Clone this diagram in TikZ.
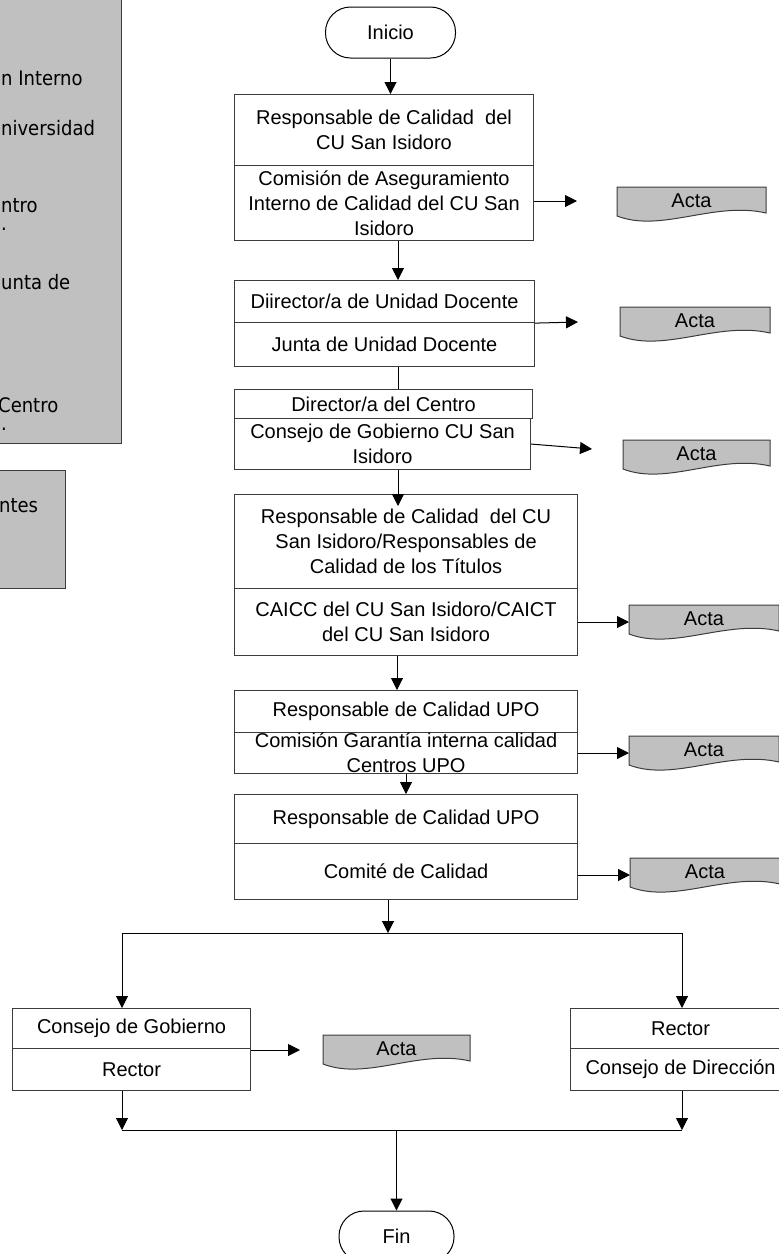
\documentclass[tikz,border=0pt]{standalone}
\usepackage{fontspec}
\setmainfont{Liberation Sans}
\newfontfamily\panelfont{DejaVu Sans Condensed}
\usetikzlibrary{arrows.meta,calc}

\definecolor{fillgray}{HTML}{C0C0C0}
\definecolor{edgegray}{HTML}{3C3C3C}

\tikzset{
  txt/.style={font=\fontsize{20}{25}\selectfont, align=center, inner sep=0pt},
  part/.style={draw=edgegray, line width=1.1pt, inner sep=0pt, anchor=north west},
  panel/.style={draw=edgegray, fill=fillgray, line width=1.1pt, inner sep=0pt, anchor=north west},
  ptext/.style={font=\panelfont\fontsize{20}{24}\selectfont, anchor=base west, inner sep=0pt},
  term/.style={draw=black, line width=1pt, rounded corners=25pt, minimum width=130pt,
               minimum height=51pt, inner sep=0pt, font=\fontsize{20}{25}\selectfont},
  actashape/.style={fill=fillgray, draw=edgegray, line width=1pt},
  ln/.style={draw=black, line width=1pt},
  arr/.style={draw=black, line width=1pt, -{Triangle[length=12pt,width=12pt]}},
}

\newcommand\bpart[7][]{%
  \node[part, minimum width=#5pt, minimum height=#6pt] (#2) at (#3,#4) {};
  \node[txt,#1] (#2t) at (#2.center) {#7};
}

\newcommand\acta[4]{%
  \coordinate (#1c) at (#2,#3);
  \draw[actashape] ($(#1c)+(-#4,-14)$) -- ($(#1c)+(#4,-14)$) -- ($(#1c)+(#4,12)$)
    .. controls ($(#1c)+(0.3*#4,0)$) and ($(#1c)+(-0.4*#4,32)$) .. ($(#1c)+(-#4,15)$) -- cycle;
  \node[txt] (#1) at (#1c) {Acta};
}

\begin{document}
\begin{tikzpicture}[x=1pt,y=-1pt]
\useasboundingbox (0,0) rectangle (779,1254);
\clip (0,0) rectangle (779,1254);

% left panels (cut off at the page edge)
\node[panel, minimum width=124pt, minimum height=446pt] (pan1) at (-3,-3) {};
\node[panel, minimum width=68pt, minimum height=118pt] (pan2) at (-3,470) {};
\node[ptext] (p1) at (1,85) {n Interno};
\node[ptext] (p2) at (1,135) {niversidad};
\node[ptext] (p3) at (1,212) {ntro};
\node[ptext] (p4) at (1,230) {.};
\node[ptext] (p5) at (1,289) {unta de};
\node[ptext] (p6) at (-2,412) {Centro};
\node[ptext] (p7) at (1,430) {.};
\node[ptext] (p8) at (-1,512) {ntes};

% terminals
\node[term] (ini) at (390.5,32.5) {Inicio};
\node[term, minimum width=115pt] (fin) at (396.5,1236.5) {Fin};

% process boxes
\bpart{b1u}{234}{94}{299}{71}{Responsable de Calidad~ del\\CU San Isidoro}
\bpart{b1l}{234}{165}{299}{75}{Comisión de Aseguramiento\\Interno de Calidad del CU San\\Isidoro}
\bpart{b2u}{234}{280}{300}{42}{Diirector/a de Unidad Docente}
\bpart{b2l}{234}{322}{300}{44}{Junta de Unidad Docente}
\bpart{b3u}{234}{389}{298}{29}{Director/a del Centro}
\bpart{b3l}{234}{418}{296}{51}{Consejo de Gobierno CU San\\Isidoro}
\bpart{b4u}{234}{494}{343}{94}{Responsable de Calidad~ del CU\\San Isidoro/Responsables de\\Calidad de los Títulos}
\bpart{b4l}{234}{588}{343}{67}{CAICC del CU San Isidoro/CAICT\\del CU San Isidoro}
\bpart{b5u}{234}{690}{343}{42}{Responsable de Calidad UPO}
\bpart{b5l}{234}{732}{343}{41}{Comisión Garantía interna calidad\\Centros UPO}
\bpart{b6u}{234}{794}{343}{49}{Responsable de Calidad UPO}
\bpart{b6l}{234}{843}{343}{56}{Comité de Calidad}
\bpart{b7u}{12}{1008}{238}{40}{Consejo de Gobierno}
\bpart{b7l}{12}{1048}{238}{42}{Rector}
\bpart{b8u}{570}{1008}{220}{40}{Rector}
\bpart{b8l}{570}{1048}{220}{42}{Consejo de Dirección}

% documents
\acta{a1}{691.5}{201}{74.5}
\acta{a2}{695}{321}{75}
\acta{a3}{696.5}{454}{73.5}
\acta{a4}{704}{619}{75}
\acta{a5}{704}{750}{75}
\acta{a6}{705}{872}{75}
\acta{a7}{396.5}{1049}{73.5}

% helper coordinates
\coordinate (cxa) at (398,0);
\coordinate (cxb) at (397,0);
\coordinate (cxc) at (406,0);
\coordinate (j1) at (388,933);
\coordinate (hl) at (122,933);
\coordinate (hr) at (682,933);
\coordinate (ll) at (122,1130);
\coordinate (lr) at (682,1130);
\coordinate (e1) at (577,201);
\coordinate (e2) at (578,322);
\coordinate (e3) at (592,449);
\coordinate (e4) at (629,622);
\coordinate (e5) at (629,753);
\coordinate (e6) at (630,875);
\coordinate (e7) at (300,1050);

% main flow
\draw[arr] (ini.south) -- (ini.south |- b1u.north);
\draw[arr] (b1l.south -| cxa) -- (b2u.north -| cxa);
\draw[ln] (b2l.south -| cxa) -- (b3u.north -| cxa);
\draw[arr, shorten >=-12pt] (b3l.south -| cxa) -- (b4u.north -| cxa);
\draw[arr] (b4l.south -| cxb) -- (b5u.north -| cxb);
\draw[arr] (b5l.south -| cxc) -- (b6u.north -| cxc);
\draw[arr] (b6l.south -| j1) -- (j1);
\draw[ln] (hl) -- (hr);
\draw[arr] (hl) -- (hl |- b7u.north);
\draw[arr] (hr) -- (hr |- b8u.north);
\draw[arr] (b7l.south -| ll) -- (ll);
\draw[arr] (b8l.south -| lr) -- (lr);
\draw[ln] (ll) -- (lr);
\draw[arr] (ll -| fin.north) -- (fin.north);

% arrows to the documents
\draw[arr] (b1l.east |- e1) -- (e1);
\draw[arr] (b2u.south east) -- (e2);
\draw[arr] (b3l.east) -- (e3);
\draw[arr] (b4l.east |- e4) -- (e4);
\draw[arr] (b5l.east |- e5) -- (e5);
\draw[arr] (b6l.east |- e6) -- (e6);
\draw[arr] (b7u.south east |- e7) -- (e7);
\end{tikzpicture}
\end{document}
